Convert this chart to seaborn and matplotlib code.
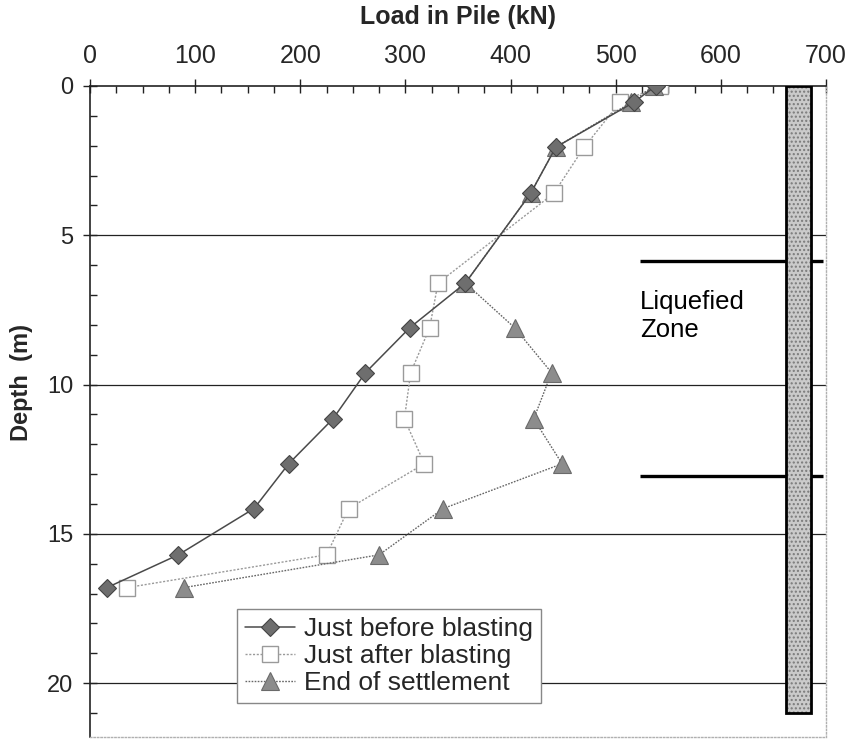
import matplotlib
matplotlib.use("Agg")
import matplotlib.pyplot as plt
from matplotlib.patches import Rectangle
from matplotlib.ticker import MultipleLocator
import seaborn as sns
import pandas as pd

# Measured pile load profiles (depth in m, load in kN)
depth_m = [0.0, 0.55, 2.05, 3.6, 6.6, 8.1, 9.6, 11.15, 12.65, 14.15, 15.7, 16.8]
load_before = [538, 517, 443, 419, 357, 304, 262, 231, 189, 156, 84, 16]
load_after = [542, 504, 470, 441, 331, 323, 305, 299, 318, 246, 225, 35]
load_end = [536, 515, 443, 419, 357, 404, 439, 422, 449, 336, 275, 89]

series_labels = ["Just before blasting", "Just after blasting", "End of settlement"]

# Pile sketch and liquefied zone bounds
pile_left_kn = 662
pile_width_kn = 24
pile_length_m = 21.0
zone_top_m = 5.85
zone_bottom_m = 13.05
zone_x_kn = [523, 697]

x_ticks = [0, 100, 200, 300, 400, 500, 600, 700]
y_ticks = [0, 5, 10, 15, 20]

sns.set_style("ticks")
plt.rcParams["font.family"] = ["Liberation Sans", "DejaVu Sans"]

df = pd.DataFrame({"depth": depth_m, "before": load_before,
                   "after": load_after, "end": load_end})

fig = plt.figure(figsize=(8.54, 7.40), dpi=100)
ax = fig.add_axes([0.1054, 0.0041, 0.8618, 0.8797])

# horizontal reference lines
for d in y_ticks[1:]:
    ax.axhline(d, color="#222222", lw=0.9, zorder=1)

# liquefied zone boundaries
for d in (zone_top_m, zone_bottom_m):
    ax.plot(zone_x_kn, [d, d], color="black", lw=2.4, zorder=2,
            solid_capstyle="butt")

sns.lineplot(data=df, x="after", y="depth", sort=False, estimator=None,
             ax=ax, color="#9a9a9a", lw=1.0, linestyle=(0, (1.5, 1.2)),
             marker="s", markersize=12, markerfacecolor="white",
             markeredgecolor="#9a9a9a", markeredgewidth=1.0,
             label=series_labels[1], zorder=3)
sns.lineplot(data=df, x="end", y="depth", sort=False, estimator=None,
             ax=ax, color="#666666", lw=1.0, linestyle=(0, (1.2, 1.0)),
             marker="^", markersize=13, markerfacecolor="#8c8c8c",
             markeredgecolor="#6a6a6a", markeredgewidth=0.8,
             label=series_labels[2], zorder=4)
sns.lineplot(data=df, x="before", y="depth", sort=False, estimator=None,
             ax=ax, color="#4a4a4a", lw=1.1, linestyle="-",
             marker="D", markersize=9, markerfacecolor="#6e6e6e",
             markeredgecolor="#444444", markeredgewidth=0.8,
             label=series_labels[0], zorder=5)

# pile
ax.add_patch(Rectangle((pile_left_kn, 0), pile_width_kn, pile_length_m,
                       facecolor="#cacaca", edgecolor="#7a7a7a", hatch="....",
                       lw=0, zorder=6))
ax.add_patch(Rectangle((pile_left_kn, 0), pile_width_kn, pile_length_m,
                       facecolor="none", edgecolor="black", lw=2.0, zorder=7))

ax.text(zone_x_kn[0], 7.46, "Liquefied", fontsize=18.5, ha="left",
        va="baseline", color="black")
ax.text(zone_x_kn[0], 8.40, "Zone", fontsize=18.5, ha="left",
        va="baseline", color="black")

ax.set_xlim(0, 700)
ax.set_ylim(21.8, 0)

ax.xaxis.tick_top()
ax.xaxis.set_label_position("top")
ax.set_xticks(x_ticks)
ax.set_yticks(y_ticks)
ax.xaxis.set_minor_locator(MultipleLocator(25))
ax.yaxis.set_minor_locator(MultipleLocator(1))

ax.tick_params(axis="both", which="major", direction="inout", length=10,
               width=1.0, color="#222222")
ax.tick_params(axis="both", which="minor", direction="in", length=5,
               width=1.0, color="#222222")
ax.tick_params(axis="x", which="major", labelsize=18, pad=8, top=True,
               bottom=False)
ax.tick_params(axis="x", which="minor", top=True, bottom=False)
ax.tick_params(axis="y", which="major", labelsize=17, pad=7)

ax.set_xlabel("Load in Pile (kN)", fontsize=18, fontweight="bold", labelpad=14)
ax.set_ylabel("Depth  (m)", fontsize=17, fontweight="bold")
ax.yaxis.set_label_coords(-0.078, 0.544)

for side in ("top", "left"):
    ax.spines[side].set_visible(True)
    ax.spines[side].set_color("#222222")
    ax.spines[side].set_linewidth(1.2)
for side in ("right", "bottom"):
    ax.spines[side].set_visible(True)
    ax.spines[side].set_color("#b0b0b0")
    ax.spines[side].set_linewidth(1.0)
    ax.spines[side].set_linestyle((0, (1, 1.5)))

handles, labels = ax.get_legend_handles_labels()
order = [labels.index(s) for s in series_labels]
leg = ax.legend([handles[i] for i in order], [labels[i] for i in order],
                loc="upper left", bbox_to_anchor=(0.1997, 0.1966),
                borderaxespad=0, fontsize=19, frameon=True, fancybox=False,
                edgecolor="#888888", handlelength=1.9, handletextpad=0.35,
                borderpad=0.3, labelspacing=0.12)
leg.get_frame().set_linewidth(1.0)
leg.get_frame().set_alpha(1)
leg.set_zorder(10)

fig.savefig("out.png", dpi=100)
